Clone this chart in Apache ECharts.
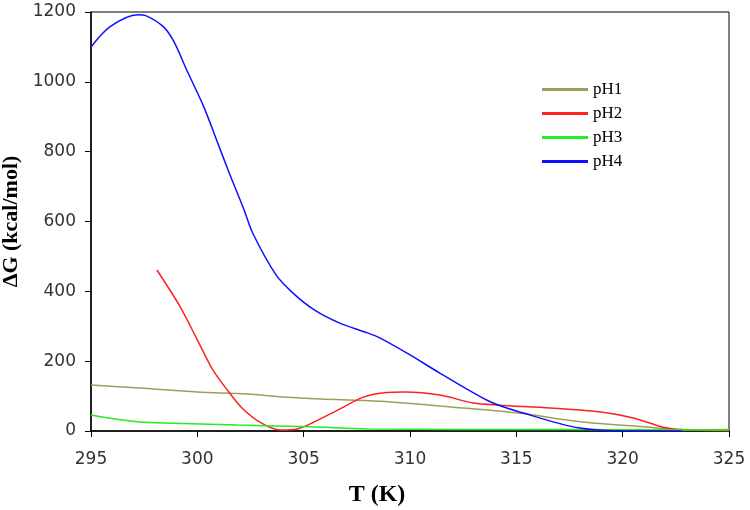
<!DOCTYPE html>
<html>
<head>
<meta charset="utf-8">
<script src="https://cdn.jsdelivr.net/npm/echarts@6/dist/echarts.min.js"></script>
<style>
	html, body { margin: 0; padding: 0; background: #fff; }
	#chart { width: 750px; height: 510px; }
</style>
</head>
<body>
<div id="chart"></div>
<script>
// values
var seriesNames = ['pH1', 'pH2', 'pH3', 'pH4'];
var pH1T = [295, 297.3, 300, 302.3, 304.2, 305.8, 308.6, 311.9, 315, 318.1, 321.3, 322.8, 325];
var pH1G = [132, 123, 112, 106, 97, 92, 85, 69, 52, 26, 11, 3, 4];
var pH2T = [298.1, 299.2, 300, 300.7, 301.4, 302.1, 303, 303.9, 304.7, 305.4, 306.6, 307.8, 308.7, 309.8, 311.4, 313, 314.2, 316.6, 318.9, 320.5, 321.9, 322.8, 325];
var pH2G = [461, 355, 261, 178, 118, 66, 23, 3, 6, 23, 60, 97, 109, 112, 103, 80, 74, 66, 55, 37, 11, 4, 0];
var pH3T = [295, 296.4, 297.3, 298.4, 301.9, 305.4, 308, 317, 325];
var pH3G = [46, 32, 26, 23, 17, 12, 6, 4, 3];
var pH4T = [295, 295.9, 297.2, 297.6, 298.4, 298.9, 299.5, 300.3, 300.9, 301.5, 302.2, 302.6, 303.7, 304.5, 305.5, 306.7, 308, 308.6, 310, 311.4, 313.8, 315.3, 317.9, 320.2, 322.8];
var pH4G = [1100, 1158, 1192, 1189, 1158, 1115, 1034, 929, 834, 739, 633, 567, 447, 395, 347, 309, 281, 266, 218, 166, 83, 52, 9, 0, 0];
var colors = ['#a09c5c', '#ff2020', '#22ee22', '#1010ff'];

function pairs(t, g) {
	return t.map(function(v, i) { return [v, g[i]]; });
}

var chart = echarts.init(document.getElementById('chart'));
var allT = [pH1T, pH2T, pH3T, pH4T];
var allG = [pH1G, pH2G, pH3G, pH4G];
var series = seriesNames.map(function(name, i) {
	return {
		name : name,
		type : 'line',
		smooth : 0.3,
		symbol : 'none',
		data : pairs(allT[i], allG[i]),
		lineStyle : { color : colors[i], width : 1.5 },
		itemStyle : { color : colors[i] }
	};
});

var option = {
	animation : false,
	grid : {
		left : 91, right : 21, top : 12, bottom : 79,
		outerBoundsMode : 'none',
		containLabel : false,
		show : true, borderColor : '#000', borderWidth : 1
	},
	legend : {
		orient : 'vertical',
		left : 537, top : 76,
		icon : 'rect',
		itemWidth : 46, itemHeight : 3, itemGap : 7,
		data : seriesNames,
		textStyle : { fontFamily : 'Liberation Serif', fontSize : 17, color : '#000' }
	},
	xAxis : {
		type : 'value',
		min : 295, max : 325, interval : 5,
		name : 'T (K)',
		nameLocation : 'middle',
		nameGap : 52,
		nameTextStyle : {
			fontFamily : 'Liberation Serif', fontWeight : 'bold', fontSize : 24, color : '#000',
			padding : [0, 66, 0, 0]
		},
		axisLine : { lineStyle : { color : '#000', width : 1.5 } },
		axisTick : { length : 6, lineStyle : { color : '#000' } },
		axisLabel : { margin : 20, fontFamily : 'DejaVu Sans', fontSize : 17, color : '#333',
			formatter : function(v) { return String(v); } },
		splitLine : { show : false }
	},
	yAxis : {
		type : 'value',
		min : 0, max : 1200, interval : 200,
		name : 'ΔG (kcal/mol)',
		nameLocation : 'middle',
		nameGap : 68,
		nameTextStyle : { fontFamily : 'Liberation Serif', fontWeight : 'bold', fontSize : 22, color : '#000' },
		axisLine : { lineStyle : { color : '#000', width : 1.5 } },
		axisTick : { length : 6, lineStyle : { color : '#000' } },
		axisLabel : { margin : 15, fontFamily : 'DejaVu Sans', fontSize : 17, color : '#333',
			formatter : function(v) { return String(v); } },
		splitLine : { show : false }
	},
	series : series
};
chart.setOption(option);
</script>
</body>
</html>
